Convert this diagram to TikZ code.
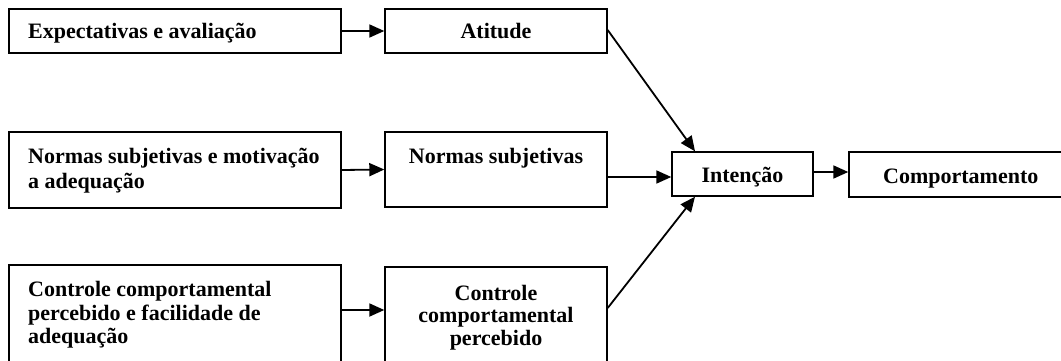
\documentclass[tikz,border=0pt]{standalone}
\usepackage{fontspec}
\setmainfont{Liberation Serif}
\usetikzlibrary{arrows.meta,calc}
\tikzset{
  box/.style={draw, line width=1.4pt, inner sep=0pt},
  txt/.style={inner sep=0pt, font=\fontsize{22}{24}\selectfont\bfseries},
  arr/.style={line width=1.8pt, -{Triangle[length=15pt,width=13pt]}},
}
\begin{document}
\begin{tikzpicture}[x=1pt,y=1pt]
\useasboundingbox (0,0) rectangle (1061,-361);
\clip (0,0) rectangle (1061,-361);
% boxes
\node[box, minimum width=332pt, minimum height=44pt] (e1) at (175,-31) {};
\node[box, minimum width=222pt, minimum height=44pt] (a) at (496,-31) {};
\node[box, minimum width=332pt, minimum height=76pt] (e2) at (175,-170) {};
\node[box, minimum width=222pt, minimum height=75pt] (b) at (496,-169.5) {};
\node[box, minimum width=332pt, minimum height=120pt] (e3) at (175,-325) {};
\node[box, minimum width=222pt, minimum height=118pt] (c) at (496,-326) {};
\node[box, minimum width=141pt, minimum height=44pt] (int) at (742.5,-174) {};
\node[box, minimum width=240pt, minimum height=45pt] (comp) at (969,-174.5) {};
% texts
\node[txt, anchor=base west] (t1) at (28,-39) {Expectativas e avaliação};
\node[txt, anchor=base] (ta) at (496,-39) {Atitude};
\node[txt, anchor=base west] (t2a) at (28,-163) {Normas subjetivas e motivação};
\node[txt, anchor=base west] (t2b) at (28,-188) {a adequação};
\node[txt, anchor=base] (tb) at (496,-163) {Normas subjetivas};
\node[txt, anchor=base west] (t3a) at (28,-296) {Controle comportamental};
\node[txt, anchor=base west] (t3b) at (28,-320) {percebido e facilidade de};
\node[txt, anchor=base west] (t3c) at (28,-343) {adequação};
\node[txt, anchor=base] (tc1) at (496,-300) {Controle};
\node[txt, anchor=base] (tc2) at (496,-322) {comportamental};
\node[txt, anchor=base] (tc3) at (496,-345) {percebido};
\node[txt, anchor=base] (ti) at (742.5,-182) {Intenção};
\node[txt, anchor=base west] (tk) at (883,-183) {Comportamento};
% connectors
\draw[arr] (e1.east) -- (a.west);
\draw[arr] (e2.east) -- (b.west);
\draw[arr] ([yshift=15pt]e3.east) -- ([yshift=15pt]e3.east -| c.west);
\draw[arr] ([yshift=-7.5pt]b.east) -- ([yshift=-7.5pt]b.east -| int.west);
\draw[arr] ([yshift=1pt]a.east) -- ([xshift=-47.5pt]int.north);
\draw[arr] ([yshift=18pt]c.east) -- ([xshift=-47.5pt]int.south);
\draw[arr] ([yshift=2pt]int.east) -- ([yshift=2pt]int.east -| comp.west);
\end{tikzpicture}
\end{document}
